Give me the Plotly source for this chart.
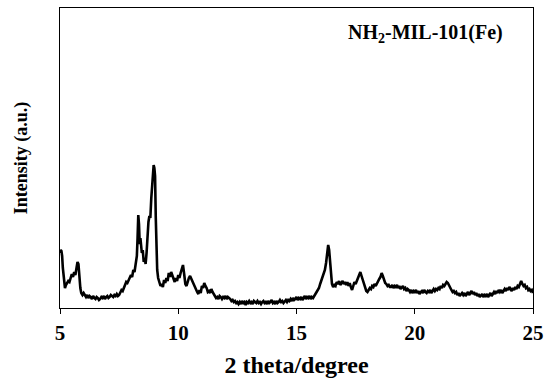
import plotly.graph_objects as go

# XRD pattern of NH2-MIL-101(Fe): 2-theta (degree) vs intensity (a.u.)
two_theta = [
    5.00, 5.03, 5.06, 5.09, 5.12, 5.15, 5.18, 5.21, 5.25, 5.30, 5.35, 5.40, 5.45, 5.50,
    5.55, 5.60, 5.65, 5.70, 5.74, 5.78, 5.82, 5.86, 5.90, 5.95, 6.00, 6.05, 6.10, 6.15,
    6.20, 6.25, 6.30, 6.35, 6.40, 6.45, 6.50, 6.55, 6.60, 6.65, 6.70, 6.75, 6.80, 6.85,
    6.90, 6.95, 7.00, 7.05, 7.10, 7.15, 7.20, 7.25, 7.30, 7.35, 7.40, 7.45, 7.50, 7.55,
    7.60, 7.65, 7.70, 7.75, 7.80, 7.85, 7.90, 7.95, 8.00, 8.05, 8.10, 8.15, 8.20, 8.25,
    8.28, 8.31, 8.34, 8.37, 8.40, 8.43, 8.46, 8.50, 8.54, 8.58, 8.62, 8.66, 8.70, 8.74,
    8.78, 8.82, 8.86, 8.90, 8.93, 8.96, 8.99, 9.02, 9.05, 9.08, 9.11, 9.15, 9.20, 9.25,
    9.30, 9.35, 9.40, 9.45, 9.50, 9.55, 9.60, 9.65, 9.70, 9.75, 9.80, 9.85, 9.90, 9.95,
    10.00, 10.05, 10.10, 10.15, 10.20, 10.25, 10.30, 10.35, 10.40, 10.45, 10.50, 10.55,
    10.60, 10.65, 10.70, 10.75, 10.80, 10.85, 10.90, 10.95, 11.00, 11.05, 11.10, 11.15,
    11.20, 11.25, 11.30, 11.35, 11.40, 11.45, 11.50, 11.55, 11.60, 11.65, 11.70, 11.75,
    11.80, 11.85, 11.90, 11.95, 12.00, 12.05, 12.10, 12.15, 12.20, 12.25, 12.30, 12.35,
    12.40, 12.45, 12.50, 12.55,
    12.60, 12.65, 12.70, 12.75, 12.80, 12.85, 12.90, 12.95, 13.00, 13.05, 13.10, 13.15,
    13.20, 13.25, 13.30, 13.35, 13.40, 13.45, 13.50, 13.55, 13.60, 13.65, 13.70, 13.75,
    13.80, 13.85, 13.90, 13.95, 14.00, 14.05, 14.10, 14.15, 14.20, 14.25, 14.30, 14.35,
    14.40, 14.45, 14.50, 14.55, 14.60, 14.65, 14.70, 14.75, 14.80, 14.85, 14.90, 14.95,
    15.00, 15.05, 15.10, 15.15, 15.20, 15.25, 15.30, 15.35, 15.40, 15.45, 15.50, 15.55,
    15.60, 15.65, 15.70, 15.75,
    15.80, 15.85, 15.90, 15.95, 16.00, 16.05, 16.10, 16.15, 16.20, 16.25, 16.30, 16.34,
    16.38, 16.42, 16.46, 16.50, 16.55, 16.60, 16.65, 16.70, 16.75, 16.80, 16.85, 16.90,
    16.95, 17.00, 17.05, 17.10, 17.15, 17.20, 17.25, 17.30, 17.35, 17.40, 17.45, 17.50,
    17.55, 17.60, 17.65, 17.70, 17.75, 17.80, 17.85, 17.90, 17.95, 18.00, 18.05, 18.10,
    18.15, 18.20, 18.25, 18.30, 18.35, 18.40, 18.45, 18.50, 18.55, 18.60, 18.65, 18.70,
    18.75, 18.80, 18.85, 18.90, 18.95,
    19.00, 19.05, 19.10, 19.15, 19.20, 19.25, 19.30, 19.35, 19.40, 19.45, 19.50, 19.55,
    19.60, 19.65, 19.70, 19.75, 19.80, 19.85, 19.90, 19.95, 20.00, 20.05, 20.10, 20.15,
    20.20, 20.25, 20.30, 20.35, 20.40, 20.45, 20.50, 20.55, 20.60, 20.65, 20.70, 20.75,
    20.80, 20.85, 20.90, 20.95, 21.00, 21.05, 21.10, 21.15, 21.20, 21.25, 21.30, 21.35,
    21.40, 21.45, 21.50, 21.55, 21.60, 21.65, 21.70, 21.75, 21.80, 21.85, 21.90, 21.95,
    22.00, 22.05, 22.10, 22.15, 22.20, 22.25, 22.30, 22.35, 22.40, 22.45, 22.50, 22.55,
    22.60, 22.65, 22.70, 22.75, 22.80, 22.85, 22.90, 22.95, 23.00, 23.05, 23.10, 23.15,
    23.20, 23.25, 23.30, 23.35, 23.40, 23.45, 23.50, 23.55, 23.60, 23.65, 23.70, 23.75,
    23.80, 23.85, 23.90, 23.95, 24.00, 24.05, 24.10, 24.15, 24.20, 24.25, 24.30, 24.35,
    24.40, 24.45, 24.50, 24.55, 24.60, 24.65, 24.70, 24.75, 24.80, 24.85, 24.90, 24.95,
    25.00,
]
intensity = [
    55, 58, 57, 52, 40, 30, 22, 20, 23, 25, 27, 26, 30, 34,
    31, 36, 33, 40, 46, 44, 30, 20, 15, 13, 15, 12, 11, 13,
    10, 12, 11, 9, 12, 10, 9, 11, 10, 8, 9, 11, 10, 12,
    9, 11, 12, 10, 11, 13, 12, 11, 13, 12, 14, 12, 13, 16,
    18, 17, 20, 22, 26, 25, 28, 30, 33, 31, 38, 36, 45, 52,
    70, 93, 84, 64, 70, 60, 55, 58, 46, 50, 44, 55, 78, 86,
    92, 90, 110, 125, 135, 143, 140, 132, 90, 58, 38, 30, 27, 22,
    24, 21, 28, 25, 30, 27, 35, 31, 36, 33, 28, 26, 30, 27,
    33, 30, 35, 38, 43, 34, 24, 22, 27, 30, 32, 29,
    26, 24, 20, 18, 16, 14, 18, 15, 22, 20, 25, 22,
    20, 16, 17, 15, 19, 16, 13, 12, 10, 11, 9, 12,
    11, 9, 11, 10, 12, 9, 11, 10, 9, 7, 8, 6,
    7, 5, 6, 4,
    6, 4, 7, 5, 6, 3, 6, 5, 7, 5, 6, 4,
    7, 6, 5, 7, 5, 6, 4, 6, 7, 5, 6, 4,
    7, 5, 6, 8, 5, 6, 4, 7, 5, 6, 8, 6,
    7, 5, 7, 8, 6, 8, 7, 9, 7, 10, 8, 9,
    11, 8, 10, 9, 11, 8, 10, 12, 9, 11, 10, 12,
    9, 11, 10, 13,
    14, 16, 18, 20, 24, 27, 30, 34, 38, 45, 56, 63,
    58, 45, 32, 24, 21, 23, 22, 26, 24, 27, 23, 25,
    27, 24, 26, 23, 26, 22, 25, 21, 18, 22, 26, 24,
    28, 30, 33, 36, 32, 28, 24, 19, 17, 16, 18, 20,
    19, 22, 21, 24, 22, 25, 27, 29, 31, 35, 32, 28,
    25, 24, 22, 23, 21,
    21, 23, 20, 22, 21, 23, 20, 22, 19, 21, 22, 19,
    20, 17, 19, 18, 16, 18, 15, 17, 16, 18, 15, 17,
    14, 16, 17, 15, 18, 16, 15, 17, 16, 18, 15, 17,
    19, 17, 19, 18, 20, 19, 22, 20, 23, 22, 24, 26,
    25, 22, 19, 18, 16, 17, 15, 16, 13, 15, 12, 14,
    15, 13, 15, 12, 14, 16, 13, 15, 17, 14, 16, 13,
    15, 12, 14, 11, 13, 14, 11, 13, 12, 14, 11, 13,
    15, 12, 14, 16, 14, 17, 15, 18, 16, 18, 15, 17,
    19, 17, 20, 18, 21, 19, 17, 20, 18, 21, 19, 22,
    21, 24, 27, 24, 22, 23, 20, 21, 18, 19, 17, 18,
    15,
]
assert len(two_theta) == len(intensity)

x_ticks = [5, 10, 15, 20, 25]
sample_label = "NH<sub>2</sub>-MIL-101(Fe)"

serif = "Liberation Serif"

fig = go.Figure(
    go.Scatter(
        x=two_theta,
        y=intensity,
        mode="lines",
        line=dict(color="black", width=2.6),
        hoverinfo="x+y",
    )
)

fig.update_layout(
    width=550,
    height=378,
    margin=dict(l=60, r=17, t=8, b=70),
    paper_bgcolor="white",
    plot_bgcolor="white",
    showlegend=False,
    font=dict(family=serif, color="black"),
    annotations=[
        dict(
            text=sample_label,
            x=0.772,
            y=0.915,
            xref="paper",
            yref="paper",
            xanchor="center",
            yanchor="middle",
            showarrow=False,
            font=dict(family=serif, size=20, color="black", weight="bold"),
        )
    ],
)

fig.update_xaxes(
    range=[5, 25],
    automargin=False,
    tickvals=x_ticks,
    ticktext=[str(t) for t in x_ticks],
    ticks="outside",
    ticklen=5,
    tickwidth=1,
    tickcolor="black",
    ticklabelstandoff=1,
    tickfont=dict(family=serif, size=21, color="black", weight="bold"),
    showline=True,
    linecolor="black",
    linewidth=1,
    mirror=True,
    showgrid=False,
    zeroline=False,
    title=dict(
        text="2 theta/degree",
        font=dict(family=serif, size=24, color="black", weight="bold"),
        standoff=15,
    ),
)

fig.update_yaxes(
    range=[0, 300],
    automargin=False,
    showticklabels=False,
    ticks="",
    showline=True,
    linecolor="black",
    linewidth=1,
    mirror=True,
    showgrid=False,
    zeroline=False,
    title=dict(
        text="Intensity (a.u.)",
        font=dict(family=serif, size=18, color="black", weight="bold"),
        standoff=26,
    ),
)

fig.write_html("out.html")
